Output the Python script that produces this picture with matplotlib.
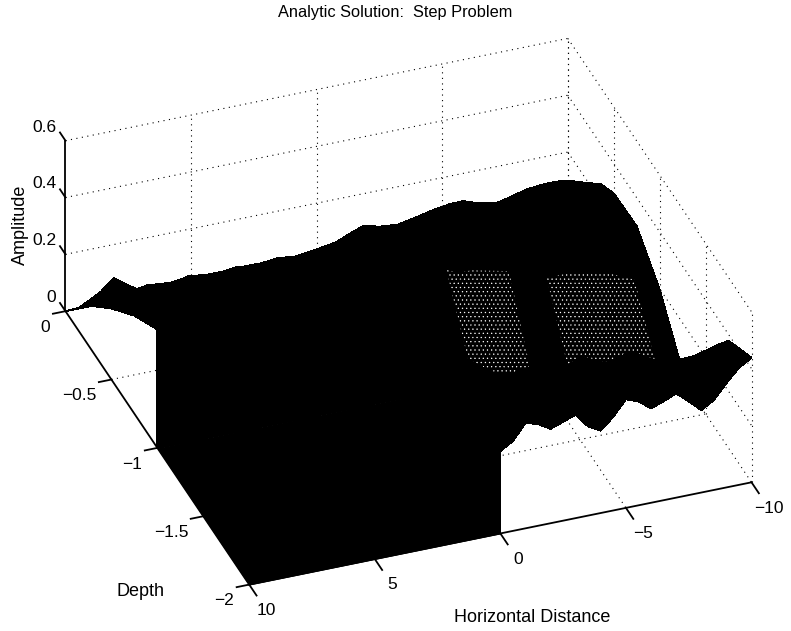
import matplotlib
matplotlib.use('Agg')

import numpy as np
import matplotlib.pyplot as plt

plt.rcParams['font.family'] = ['Liberation Sans', 'DejaVu Sans']
plt.rcParams['hatch.color'] = 'white'
plt.rcParams['hatch.linewidth'] = 0.4

# shallow side, x from 10 to 0, rows are depth 0 .. -1
x_shallow = [10, 9.5, 9, 8.5, 8, 7.5, 7, 6.5, 6, 5.5, 5, 4.5, 4, 3.5, 3, 2.5, 2, 1.5, 1, 0.5, 0]
d_shallow = [0, -0.25, -0.5, -0.75, -1]
z_shallow = [
    [0] * 21,
    [.14, .18, .219, .154, .163, .168, .159, .161, .173, .164, .155, .164, .166, .154, .163, .171, .161, .164, .173, .168, .191],
    [.25, .27, .30, .307, .298, .297, .306, .304, .293, .30, .306, .293, .302, .307, .302, .30, .309, .304, .323, .343, .359],
    [.345, .35, .36, .37, .37, .37, .375, .375, .37, .375, .38, .37, .38, .385, .38, .38, .39, .39, .40, .42, .44],
    [.417, .42, .43, .44, .44, .44, .445, .445, .44, .445, .45, .44, .45, .455, .45, .45, .46, .46, .47, .49, .50],
]

# deep side, x from 0 to -10, rows are depth 0 .. -2
x_deep = [0, -.5, -1, -1.5, -2, -2.5, -3, -3.5, -4, -4.5, -5, -5.5, -6, -6.5, -7, -7.5, -8, -8.5, -9, -9.5, -10]
d_deep = [0, -0.25, -0.5, -0.75, -1, -1.25, -1.5, -1.75, -2]
z_deep = [
    [0] * 21,
    [.191, .207, .223, .21, .198, .203, .212, .224, .233, .235, .237, .221, .203, .207, .223, .235, .237, .239, .237, .224, .20],
    [.359, .35, .337, .339, .35, .36, .369, .375, .376, .36, .345, .343, .359, .371, .376, .378, .376, .364, .348, .336, .295],
    [.44, .43, .42, .42, .43, .43, .44, .44, .44, .43, .42, .41, .42, .43, .43, .42, .41, .39, .37, .35, .30],
    [.50, .47, .44, .42, .40, .40, .39, .38, .37, .35, .33, .32, .32, .32, .31, .30, .29, .27, .25, .22, .198],
    [.36, .30, .25, .21, .17, .15, .14, .13, .12, .11, .10, .10, .09, .09, .08, .08, .07, .06, .05, .04, .03],
    [.30, .31, .33, .30, .27, .28, .29, .25, .22, .25, .29, .27, .25, .26, .27, .25, .22, .21, .21, .21, .22],
    [.29, .32, .37, .35, .32, .34, .36, .32, .29, .33, .37, .36, .33, .34, .36, .33, .30, .32, .35, .37, .378],
    [.29, .316, .371, .358, .332, .348, .364, .313, .29, .33, .382, .366, .332, .348, .367, .33, .29, .316, .367, .412, .438],
]

x_ticks = [10, 5, 0, -5, -10]
d_ticks = [0, -0.5, -1, -1.5, -2]
z_ticks = [0, 0.2, 0.4, 0.6]
z_tick_labels = ['0', '0.2', '0.4', '0.6']

W, H = 791, 631
fig = plt.figure(figsize=(W / 100, H / 100), dpi=100)
# axes larger than the figure, otherwise the box gets clipped
side = 777
cx, cy = 398, 309
ax = fig.add_axes([(cx - side / 2) / W, (cy - side / 2) / H, side / W, side / H],
                  projection='3d', proj_type='ortho', computed_zorder=False)
ax.set_xlim(10, -10)
ax.set_ylim(-2, 0)
ax.set_zlim(0, 0.6)
ax.set_box_aspect((535, 529, 204), zoom=0.975)
ax.view_init(elev=33.4, azim=-110.3)
ax.set_xticks([])
ax.set_yticks([])
ax.set_zticks([])
ax.set_axis_off()
ax.patch.set_alpha(0)

# dotted box and grid
dot = dict(color='k', lw=0.8, ls=(0, (1, 4)), zorder=1)
for x in x_ticks[1:]:
    ax.plot([x, x], [0, -2], [0, 0], **dot)
    ax.plot([x, x], [0, 0], [0, 0.6], **dot)
for d in d_ticks[:-1]:
    ax.plot([10, -10], [d, d], [0, 0], **dot)
for d in d_ticks:
    ax.plot([-10, -10], [d, d], [0, 0.6], **dot)
for z in z_ticks[1:]:
    ax.plot([10, -10], [0, 0], [z, z], **dot)
    ax.plot([-10, -10], [0, -2], [z, z], **dot)


def black_surface(xs, ds, zs, zorder):
    xg, dg = np.meshgrid(xs, ds)
    return ax.plot_surface(xg, dg, np.array(zs, dtype=float), rstride=1, cstride=1, color='k',
                           shade=False, linewidth=0.6, edgecolor='k', antialiased=False, zorder=zorder)


# floor of the shelf side and the two step walls
black_surface([10, 0], [-1, -2], [[0, 0], [0, 0]], 3)
black_surface(x_shallow, [-1, -1], [z_shallow[-1], [0] * 21], 4)
black_surface(x_shallow, d_shallow, z_shallow, 5)
black_surface(x_deep, d_deep, z_deep, 5)
col0 = [r[0] for r in z_deep]
black_surface([0, 0], d_deep, [[c, 0] for c in col0], 6)

# thinner parts of the mesh show as white speckle
z_arr = np.array(z_deep)
for i0, i1 in [(3, 9), (11, 19)]:
    xg, dg = np.meshgrid(x_deep[i0:i1], d_deep[4:6])
    sp = ax.plot_surface(xg, dg, z_arr[4:6, i0:i1], rstride=1, cstride=1, color='k', shade=False,
                         linewidth=0, zorder=7)
    sp.set_hatch('....')
black_surface(x_deep, d_deep[5:], z_deep[5:], 8)

# solid axes with ticks
ax_line = dict(color='k', lw=1.3, zorder=10)
ax.plot([10, 10], [0, 0], [0, 0.6], **ax_line)
ax.plot([10, 10], [0, -2], [0, 0], **ax_line)
ax.plot([10, -10], [-2, -2], [0, 0], **ax_line)
for x in x_ticks:
    ax.plot([x, x], [-2, -2.08], [0, 0], **ax_line)
    ax.text(x, -2.19, 0, str(x).replace('-', '\u2212'), ha='center', va='center', fontsize=12.5, zorder=11)
for d in d_ticks:
    ax.plot([10, 10.5], [d, d], [0, 0], **ax_line)
    ax.text(10.6, d, -0.046, f'{d:g}'.replace('-', '\u2212'), ha='right', va='center', fontsize=12.5, zorder=11)
for z, lab in zip(z_ticks, z_tick_labels):
    ax.plot([10, 10], [0, 0.06], [z, z], **ax_line)
    ax.text(10, 0.1, z, lab, ha='right', va='center', fontsize=12.5, zorder=11)

fig.text(395 / W, 1 - 12 / H, 'Analytic Solution:  Step Problem', ha='center', va='center', fontsize=11.8)
fig.text(141 / W, 1 - 592 / H, 'Depth', ha='center', va='center', fontsize=13)
fig.text(532 / W, 1 - 617 / H, 'Horizontal Distance', ha='center', va='center', fontsize=13)
fig.text(20 / W, 1 - 225 / H, 'Amplitude', ha='center', va='center', rotation=90, fontsize=13)

fig.savefig('out.png', dpi=100, facecolor='white')
